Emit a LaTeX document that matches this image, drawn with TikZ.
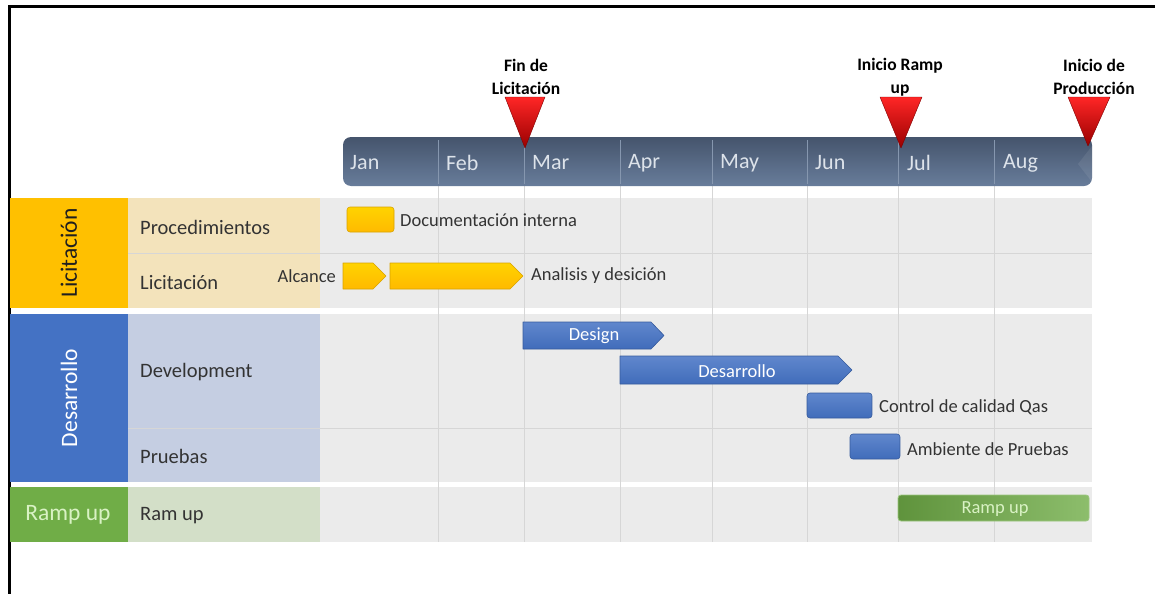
\documentclass[tikz,border=0pt]{standalone}
\usepackage{fontspec}
\setmainfont{Carlito}
\usetikzlibrary{shapes}
\definecolor{barTop}{HTML}{45546C}
\definecolor{barBot}{HTML}{687D9B}
\definecolor{monthTxt}{HTML}{DDE3EA}
\definecolor{gridGray}{HTML}{D6D6D6}
\definecolor{ganttBg}{HTML}{EBEBEB}
\definecolor{licOrange}{HTML}{FFC000}
\definecolor{licBeige}{HTML}{F3E3BB}
\definecolor{desBlue}{HTML}{4472C4}
\definecolor{desLight}{HTML}{C5CEE2}
\definecolor{rampGreen}{HTML}{70AD47}
\definecolor{rampLight}{HTML}{D3DFC8}
\definecolor{rampTxt}{HTML}{D9F2C4}
\definecolor{txtGray}{HTML}{333333}
\tikzset{
  rowlabel/.style={anchor=west,inner sep=0pt,text=txtGray,font=\fontsize{20.5}{24}\selectfont},
  sidelabel/.style={anchor=west,inner sep=0pt,text=txtGray,font=\fontsize{18.5}{22}\selectfont},
  inlabel/.style={inner sep=0pt,text=white,font=\fontsize{18.5}{22}\selectfont},
  grouplabel/.style={inner sep=0pt,font=\fontsize{23.5}{27}\selectfont},
  milelabel/.style={align=center,inner sep=0pt,font=\bfseries\fontsize{17.5}{23}\selectfont},
  yellowbar/.style={top color=licOrange!70!yellow,bottom color=licOrange!90!orange,draw=licOrange!85!black,line width=.6pt},
  bluebar/.style={top color=desBlue!85!white,bottom color=desBlue!95!black,draw=desBlue!80!black,line width=.6pt},
  greenbar/.style={left color=rampGreen!85!black,right color=rampGreen!80!white,draw=rampGreen!70!white,line width=.8pt},
  redtri/.style={top color=red!85!white,bottom color=red!60!black,draw=red!50!black,line width=.4pt}
}
\begin{document}
\begin{tikzpicture}[x=1pt,y=-1pt,join=round] % Gantt with 3 phases
        \useasboundingbox (0,0) rectangle (1155,594);
        % frame
        \draw[line width=3pt](8,7)--(1155,7);
        \draw[line width=3pt](9.5,7)--(9.5,594);
        % gantt background of the groups
        \fill[ganttBg](320,198) rectangle (1092,308);
        \fill[ganttBg](320,314) rectangle (1092,482);
        \fill[ganttBg](320,487) rectangle (1092,542);
        \fill[licOrange](10,198) rectangle (128,308);
        \fill[licBeige](128,198) rectangle (320,308);
        \fill[desBlue](10,314) rectangle (128,482);
        \fill[desLight](128,314) rectangle (320,482);
        \fill[rampGreen](10,487) rectangle (128,542);
        \fill[rampLight](128,487) rectangle (320,542);
        \draw[gridGray,line width=.8pt](128,253)--(1092,253);
        \draw[gridGray,line width=.8pt](128,428)--(1092,428);
        % month grid
        \draw[gridGray,line width=.8pt](438,186)--(438,542) (524,186)--(524,542)
                (620,186)--(620,542) (712,186)--(712,542) (807,186)--(807,542)
                (898,186)--(898,542) (994,186)--(994,542);
        % timeline bar
        \shade[top color=barTop,bottom color=barBot,rounded corners=8pt](343,137) rectangle (1092,186);
        \fill[white,opacity=.08](1092,146)--(1092,182)--(1078,164)--cycle;
        \draw[barBot!80!white,line width=.7pt](438,140)--(438,184) (524,140)--(524,184)
                (620,140)--(620,184) (712,140)--(712,184) (807,140)--(807,184)
                (898,140)--(898,184) (994,140)--(994,184);
        \path[text=monthTxt,font=\fontsize{22}{26}\selectfont,inner sep=0pt]
                (350,163) node [anchor=west] (jan) {Jan}
                (446,163) node [anchor=west] (feb) {Feb}
                (532,163) node [anchor=west] (mar) {Mar}
                (628,163) node [anchor=west] (apr) {Apr}
                (720,163) node [anchor=west] (may) {May}
                (815,163) node [anchor=west] (jun) {Jun}
                (907,163) node [anchor=west] (jul) {Jul}
                (1003,163) node [anchor=west] (aug) {Aug};
        % milestones
        \shade[redtri](505,97)--(545,97)--(525,148)--cycle;
        \shade[redtri](880,97)--(922,97)--(901,148)--cycle;
        \shade[redtri](1068,97)--(1110,97)--(1088,146)--cycle;
        \node[milelabel] (finlic) at (526,77) {Fin de\\Licitación};
        \node[milelabel] (iniramp) at (900,77) {Inicio Ramp\\up};
        \node[milelabel] (iniprod) at (1094,77) {Inicio de\\Producción};
        % group and row labels
        \node[grouplabel,rotate=90,text=txtGray!60!black] (glic) at (69,253) {Licitación};
        \node[grouplabel,rotate=90,text=white] (gdes) at (69,398) {Desarrollo};
        \node[grouplabel,text=rampTxt] (gramp) at (68,515) {Ramp up};
        \node[rowlabel] (rproc) at (140,227) {Procedimientos};
        \node[rowlabel] (rlic) at (140,283) {Licitación};
        \node[rowlabel] (rdev) at (140,372) {Development};
        \node[rowlabel] (rprue) at (140,456) {Pruebas};
        \node[rowlabel] (rram) at (140,516) {Ram up};
        % tasks
        \shade[yellowbar,rounded corners=3pt](347,207) rectangle (394,232);
        \shade[yellowbar](343,263)--(373,263)--(386,276)--(373,289)--(343,289)--cycle;
        \shade[yellowbar](390,263)--(510,263)--(523,276)--(510,289)--(390,289)--cycle;
        \shade[bluebar](523,322)--(651,322)--(664,335.5)--(651,349)--(523,349)--cycle;
        \shade[bluebar](620,356)--(838,356)--(852,370)--(838,384)--(620,384)--cycle;
        \shade[bluebar,rounded corners=3pt](807,393) rectangle (872,418);
        \shade[bluebar,rounded corners=3pt](850,434) rectangle (900,459);
        \shade[greenbar,rounded corners=3pt](898,495) rectangle (1089,521);
        \node[sidelabel] (tdoc) at (400,220) {Documentación interna};
        \node[sidelabel,anchor=east] (talc) at (336,276) {Alcance};
        \node[sidelabel] (tana) at (531,276) {Analisis y desición};
        \node[inlabel] (tdesign) at (594,336) {Design};
        \node[inlabel] (tdesa) at (737,371) {Desarrollo};
        \node[sidelabel] (tqas) at (879,407) {Control de calidad Qas};
        \node[sidelabel] (tamb) at (907,449) {Ambiente de Pruebas};
        \node[inlabel,text=rampTxt] (tramp) at (995,509) {Ramp up};
     \end{tikzpicture}
\end{document}
